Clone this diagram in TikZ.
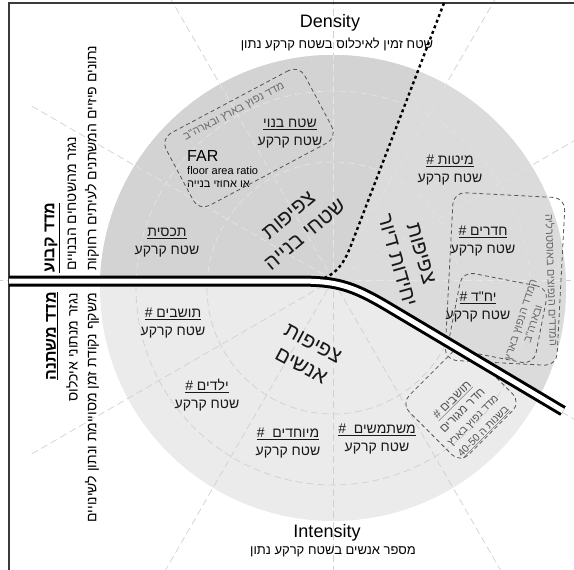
\documentclass[tikz,border=0pt]{standalone}
\usepackage{fontspec}
\setmainfont{Liberation Sans}
\newfontfamily\heb[Script=Hebrew]{Liberation Sans}
\TeXXeTstate=1
\usepackage{tikz}
\usetikzlibrary{positioning,calc}
\definecolor{DNSdark}{HTML}{D3D3D3}
\definecolor{DNSmid}{HTML}{DBDBDB}
\definecolor{DNSlight}{HTML}{EBEBEB}
\definecolor{DNSgrid}{HTML}{D0D0D0}
\definecolor{DNSgridup}{HTML}{E6E6E6}
\definecolor{DNSline}{HTML}{555555}
\definecolor{DNSnote}{HTML}{6A6A6A}
\definecolor{DNSframe}{HTML}{3A3A3A}
\newcommand{\hb}[1]{\beginR#1\endR}
\newcommand{\hul}[1]{\underline{\beginR#1\endR}}
\tikzset{
  gridln/.style={dash pattern=on 7pt off 4pt, line width=0.7pt},
  keylbl/.style={font=\fontsize{14}{18}\selectfont\heb, align=center, inner sep=0pt, text=black!90},
  bigtag/.style={font=\fontsize{21}{25}\selectfont\heb, align=center, inner sep=0pt, text=black!90},
  sidetag/.style={rotate=90, inner sep=0pt, font=\fontsize{14}{16}\selectfont\heb},
  notebox/.style={draw=DNSline, dash pattern=on 4pt off 3pt, line width=0.8pt, rounded corners=12pt, inner sep=0pt},
  notetext/.style={font=\fontsize{11}{13}\selectfont\heb, text=DNSnote, inner sep=0pt, align=center},
  axistag/.style={font=\fontsize{18}{20}\selectfont, inner sep=0pt},
  axissub/.style={font=\fontsize{13}{15}\selectfont\heb, inner sep=0pt}
}
\begin{document}
\begin{tikzpicture}[x=1pt, y=-1pt]
\useasboundingbox (0,0) rectangle (574,570);
\clip (0,0) rectangle (574,570);
\coordinate (ctr) at (333,288);
\coordinate (gctr) at (333,280);
% shaded disc
\fill[DNSlight] (ctr) circle (233pt);
\begin{scope}
  \clip (ctr) circle (233pt);
  \fill[DNSmid] (0,0) -- (600,0) -- (600,411) -- (563,411) -- (390,308)
    .. controls (350,284) and (335,281) .. (295,281) -- (0,281) -- cycle;
  \fill[DNSdark] (0,0) -- (446,0) -- (444,3) -- (350,248)
    .. controls (343,265) and (335,276) .. (320,280) -- (0,281) -- cycle;
\end{scope}
% grid
\foreach \a in {0,30,...,330}
  \draw[gridln, DNSgrid] (gctr) -- ++(\a:350pt);
\draw[gridln, DNSgrid] (ctr) circle (126pt) (ctr) circle (197pt);
\begin{scope}
  \clip (ctr) circle (233pt);
  \clip (0,0) -- (600,0) -- (600,411) -- (563,411) -- (390,308)
    .. controls (350,284) and (335,281) .. (295,281) -- (0,281) -- cycle;
  \foreach \a in {0,30,...,330}
    \draw[gridln, DNSgridup] (gctr) -- ++(\a:350pt);
  \draw[gridln, DNSgridup] (ctr) circle (126pt) (ctr) circle (197pt);
\end{scope}
\draw[DNSframe, line width=1.3pt] (9,3) rectangle (600,600);

% dashed note boxes
\node[notebox, rotate=28, minimum width=157pt, minimum height=82pt] (farbox) at (249,138) {};
\node[notebox, rotate=-3, minimum width=112pt, minimum height=168pt] (roombox) at (505,279) {};
\node[notebox, rotate=-11, minimum width=88pt, minimum height=78pt] (unitbox) at (498,318) {};
\node[notebox, rotate=45, minimum width=86pt, minimum height=84pt] (resbox) at (461,403) {};

% dividing lines
\draw[line width=2.4pt, dash pattern=on 3pt off 3pt] (444,3) -- (350,248)
  .. controls (343,265) and (335,276) .. (318,280);
\draw[double=white, double distance=5pt, line width=3pt] (9,281) -- (295,281)
  .. controls (335,281) and (350,284) .. (390,308) -- (563,411);

% axis titles
\node[axistag] (density) at (330,23) {Density};
\node[axissub] (densitysub) at (337,44) {\hb{שטח זמין לאיכלוס בשטח קרקע נתון}};
\node[axistag] (intensity) at (327,533) {Intensity};
\node[axissub] (intensitysub) at (333,552) {\hb{מספר אנשים בשטח קרקע נתון}};

% side titles
\node[sidetag, anchor=west, font=\fontsize{16}{18}\selectfont\bfseries\heb] (fixed) at (52,273) {\hul{מדד קבוע}};
\node[sidetag, anchor=west] (fixedsrc) at (72,271) {\hb{נגזר מהשטחים הבנויים}};
\node[sidetag, anchor=west] (fixeddat) at (92,271) {\hb{נתונים פיזיים המשתנים לעיתים רחוקות}};
\node[sidetag, anchor=east, font=\fontsize{16}{18}\selectfont\bfseries\heb] (variable) at (52,292) {\hul{מדד משתנה}};
\node[sidetag, anchor=east] (varsrc) at (72,293) {\hb{נגזר מנתוני איכלוס}};
\node[sidetag, anchor=east] (vardat) at (92,293) {\hb{משקף נקודת זמן מסויימת ונתון לשינויים}};

% sector titles
\node[bigtag, rotate=40] (builtdens) at (297,225) {\hb{צפיפות}\\\hb{שטחי בנייה}};
\node[bigtag, rotate=-74] (unitdens) at (409,257) {\hb{צפיפות}\\\hb{יחידות דיור}};
\node[bigtag, rotate=-28] (peopledens) at (307,355) {\hb{צפיפות}\\\hb{אנשים}};

% measures
\node[keylbl] (built) at (290,134) {\hul{שטח בנוי}\\\hb{שטח קרקע}};
\node[keylbl] (cover) at (167,243) {\hul{תכסית}\\\hb{שטח קרקע}};
\node[keylbl] (beds) at (450,170) {\hul{מיטות \#}\\\hb{שטח קרקע}};
\node[keylbl] (rooms) at (483,241) {\hul{חדרים \#}\\\hb{שטח קרקע}};
\node[keylbl] (units) at (478,307) {\hul{יח"ד \#}\\\hb{שטח קרקע}};
\node[keylbl] (residents) at (173,323) {\hul{תושבים \#}\\\hb{שטח קרקע}};
\node[keylbl] (children) at (207,395) {\hul{ילדים \#}\\\hb{שטח קרקע}};
\node[keylbl] (special) at (288,443) {\hul{מיוחדים~ \#}\\\hb{שטח קרקע}};
\node[keylbl] (users) at (377,439) {\hul{משתמשים~ \#}\\\hb{שטח קרקע}};
\node[anchor=west, inner sep=0pt, font=\fontsize{16}{18}\selectfont] (far) at (187,156) {FAR};
\node[anchor=west, inner sep=0pt, font=\fontsize{11}{13}\selectfont] (farname) at (187,171) {floor area ratio};
\node[anchor=west, inner sep=0pt, font=\fontsize{11}{13}\selectfont\heb] (farheb) at (187,184) {\hb{או אחוזי בנייה}};

% notes inside boxes
\node[notetext, rotate=28] (farnote) at (234,112) {\hb{מדד נפוץ בארץ ובארה"ב}};
\node[notetext, rotate=-88] (roomnote) at (552,280) {\hb{המדדים הנפוצים באוסטרליה}};
\node[notetext, rotate=72] (unitnote) at (527,322) {\hb{המדד הנפוץ בארץ}\\\hb{ובארה"ב}};
\node[notetext, rotate=45, text=DNSline, font=\fontsize{12}{14.5}\selectfont\heb] (resnote) at (468,416)
  {\hul{תושבים \#}\\\hb{חדר מגורים}\\{\fontsize{10.5}{13}\selectfont\hb{מדד נפוץ בארץ}}\\{\fontsize{10.5}{13}\selectfont\hul{בשנות ה \beginL 40-50\endL}}};
\end{tikzpicture}
\end{document}
